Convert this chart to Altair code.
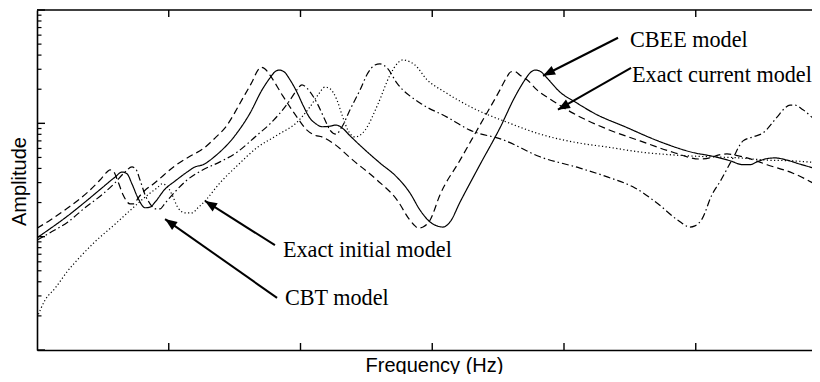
import math
import altair as alt
import pandas as pd

# Frequency in Hz (unlabelled ticks every 100 Hz); amplitude as level in dB
# (20 dB per decade, drawn as a logarithmic amplitude axis).
cbee_f = [0, 9.9, 23.5, 36.4, 49.3, 59.2, 64.5, 68.3, 72.1, 76.7, 82.0, 85.8, 89.6, 97.2,
          104.7, 113.9, 119.9, 126.0, 135.1, 151.8, 161.7, 170.8, 176.8, 180.6, 183.7, 187.5,
          192.0, 197.3, 201.9, 207.2, 211.8, 216.3, 222.4, 226.9, 231.5, 237.6, 249.0, 260.3,
          273.2, 283.1, 290.7, 298.3, 303.6, 308.2, 313.5, 321.1, 336.2, 351.4, 362.8, 370.4,
          374.2, 378.0, 381.8, 387.1, 397.0, 408.3, 423.5, 446.3, 471.3, 497.1, 514.6, 526.0,
          535.9, 541.2, 546.5, 552.6, 560.1, 569.3, 579.1, 594.3]
cbee_db = [19.8, 21.4, 23.7, 26.1, 28.6, 30.5, 31.4, 31.1, 29.3, 26.8, 25.1, 25.2, 26.1, 28.4,
           29.8, 31.4, 32.3, 32.7, 34.2, 38.3, 41.8, 45.9, 48.0, 49.1, 49.4, 49.1,
           47.7, 45.5, 43.2, 40.9, 39.9, 39.4, 39.5, 39.7, 39.2, 37.8, 35.3, 33.0,
           30.5, 27.7, 24.7, 22.6, 21.9, 21.7, 22.6, 26.1, 32.7, 39.2, 44.7, 47.7,
           48.9, 49.4, 49.2, 48.0, 45.5, 43.8, 41.7, 39.4, 36.9, 34.9, 34.1, 33.4,
           32.7, 32.7, 33.2, 33.7, 33.9, 33.5, 32.8, 31.8]

current_f = [0, 9.9, 23.5, 38.7, 47.8, 53.1, 55.4, 58.4, 61.5, 65.3, 70.6, 73.6, 76.7, 82.0,
             87.3, 104.7, 116.1, 126.0, 135.1, 142.7, 156.4, 163.2, 167.7, 170.0, 173.1, 176.8,
             186.7, 197.3, 204.9, 211.0, 216.3, 224.7, 239.8, 258.1, 273.2, 283.1, 286.9, 289.2,
             293.0, 298.3, 305.9, 321.1, 336.2, 351.4, 356.7, 359.8, 362.8, 366.6, 371.9, 379.5,
             389.4, 406.8, 432.6, 457.7, 482.7, 503.2, 510.8, 516.9, 523.7, 529.8, 538.9, 554.1,
             573.8, 594.3]
current_db = [21.5, 22.9, 25.1, 27.9, 30.0, 31.4, 31.8, 31.4, 29.7, 27.4, 25.8, 25.8, 26.8, 28.2,
              29.1, 32.5, 34.2, 35.5, 37.4, 39.2, 44.5, 47.3, 49.4, 49.9, 49.6, 48.5,
              44.8, 41.1, 38.8, 37.9, 37.6, 36.5, 33.5, 30.0, 26.5, 22.9, 21.9, 21.5,
              21.7, 22.9, 27.4, 33.5, 39.7, 45.9, 48.2, 49.1, 49.1, 48.5, 47.7, 45.9,
              44.3, 41.8, 39.0, 36.9, 34.9, 33.7, 33.9, 34.4, 34.6, 34.4, 33.9, 32.7,
              31.2, 28.8]

initial_f = [0, 6.1, 13.7, 22.8, 32.6, 44.0, 59.2, 72.9, 84.2, 91.1, 94.9, 97.9, 102.5, 107.0,
             112.3, 117.6, 122.2, 127.5, 138.9, 151.8, 167.0, 182.2, 197.3, 207.2, 213.3, 218.6,
             222.4, 227.7, 231.5, 236.0, 241.4, 245.2, 249.0, 258.8, 267.9, 274.0, 277.8, 281.6,
             286.9, 296.0, 309.7, 330.9, 356.7, 381.8, 412.1, 433.4, 459.2, 484.2, 509.3, 533.6,
             554.1, 571.5, 594.3]
initial_db = [5.7, 8.8, 10.9, 13.8, 16.4, 19.1, 22.2, 25.1, 27.4, 28.6, 29.3, 29.1, 27.4, 25.1,
              24.2, 24.2, 25.1, 26.3, 29.5, 32.5, 35.7, 37.9, 40.2, 42.9, 45.0, 46.4,
              46.1, 44.1, 41.5, 38.8, 37.6, 37.9, 38.8, 43.4, 48.5, 50.7, 51.2, 51.0,
              50.3, 47.7, 45.5, 42.7, 40.2, 38.1, 36.5, 35.8, 34.9, 34.4, 34.1, 33.9,
              33.5, 33.4, 33.0]

cbt_f = [0, 9.9, 23.5, 36.4, 49.3, 59.2, 66.8, 72.1, 75.1, 78.2, 82.0, 85.8, 90.3, 93.4,
         97.2, 104.7, 113.9, 126.0, 138.9, 151.8, 167.0, 176.8, 184.4, 192.0, 197.3, 201.1,
         204.9, 212.5, 218.6, 222.4, 226.9, 231.5, 237.6, 245.2, 251.2, 256.5, 260.3, 265.7,
         273.2, 290.7, 311.2, 328.6, 353.7, 381.8, 412.1, 433.4, 453.9, 471.3, 486.5, 495.6,
         499.4, 504.7, 512.3, 518.4, 528.3, 535.9, 543.4, 551.0, 561.7, 567.7, 571.5, 575.3,
         581.4, 592.0, 594.3]
cbt_db = [19.4, 20.7, 22.6, 25.1, 27.4, 29.5, 31.4, 32.3, 31.9, 30.0, 27.4, 25.8, 24.9, 24.9,
          25.9, 27.9, 30.0, 31.8, 33.2, 34.9, 37.9, 39.9, 41.8, 44.1, 45.9, 46.8,
          46.2, 43.6, 40.6, 38.8, 38.1, 39.4, 42.4, 45.9, 48.9, 50.3, 50.5, 49.8,
          47.1, 43.6, 41.1, 38.8, 37.1, 34.1, 32.1, 30.5, 28.6, 25.8, 22.9, 21.7,
          21.9, 23.1, 27.4, 29.7, 33.9, 36.9, 37.6, 38.3, 41.1, 42.7, 43.2, 43.2,
          42.4, 40.4, 40.1]

series_names = ["CBEE model", "Exact current model", "Exact initial model", "CBT model"]

# Annotations
ann_text = ["CBEE model", "Exact current model", "Exact initial model", "CBT model"]
ann_text_f = [450.1, 451.6, 186.7, 188.2]
ann_text_db = [54.7, 48.5, 17.6, 9.2]
arrow_start_f = [441.0, 450.9, 180.6, 182.2]
arrow_start_db = [55.1, 49.8, 18.5, 9.2]
arrow_tip_f = [384.1, 395.4, 127.5, 97.2]
arrow_tip_db = [48.4, 42.4, 26.3, 23.1]

# Tick positions
x_ticks = [100, 200, 300, 400, 500]
y_major = [0, 20, 40, 60]

# ---------------------------------------------------------------------------
PX_PER_HZ = 1.3175
W, H = 775, 340
F_MAX, DB_MAX = W / PX_PER_HZ, 60.0

rows = []
for name, fs, ds in zip(series_names, [cbee_f, current_f, initial_f, cbt_f],
                        [cbee_db, current_db, initial_db, cbt_db]):
    for f, d in zip(fs, ds):
        rows.append({"series": name, "f": f, "db": d})
lines_df = pd.DataFrame(rows)

y_minor = [20 * math.log10(k) + 20 * dec for dec in range(3) for k in range(2, 10)]

px_f = W / F_MAX
px_db = H / DB_MAX
angles = []
for sf, sd, tf, td in zip(arrow_start_f, arrow_start_db, arrow_tip_f, arrow_tip_db):
    dx = (tf - sf) * px_f
    dy = -(td - sd) * px_db
    angles.append(math.degrees(math.atan2(dx, -dy)) % 360)

arrows_df = pd.DataFrame({"f": arrow_start_f, "db": arrow_start_db,
                          "f2": arrow_tip_f, "db2": arrow_tip_db})
heads_df = pd.DataFrame({"f": arrow_tip_f, "db": arrow_tip_db, "angle": angles})
text_df = pd.DataFrame({"f": ann_text_f, "db": ann_text_db, "label": ann_text})

xscale = alt.Scale(domain=[0, F_MAX], nice=False, zero=False)
yscale = alt.Scale(domain=[0, DB_MAX], nice=False, zero=False)
xaxis = alt.Axis(title="Frequency (Hz)", titleX=397, titleY=15, titleBaseline="middle",
                 titleAlign="center")
yaxis = alt.Axis(title="Amplitude", titleX=-17.5, titleY=171, titleAngle=270,
                 titleBaseline="middle", titleAlign="center")

X = lambda: alt.X("f:Q", scale=xscale, axis=xaxis)
Y = lambda: alt.Y("db:Q", scale=yscale, axis=yaxis)

lines = alt.Chart(lines_df).mark_line(color="black", strokeWidth=1.2, interpolate="monotone",
                                      clip=True).encode(
    x=X(), y=Y(),
    strokeDash=alt.StrokeDash("series:N", scale=alt.Scale(
        domain=series_names,
        range=[[1, 0], [7, 4], [1.2, 2.4], [7, 3, 1.5, 3]]), legend=None),
)

top_border = alt.Chart(pd.DataFrame({"k": [0]})).mark_rule(color="black", strokeWidth=1.6).encode(
    x=alt.value(0), x2=alt.value(W), y=alt.value(0))

xt_df = pd.DataFrame({"f": x_ticks})
xticks_bottom = alt.Chart(xt_df).mark_rule(color="black", strokeWidth=1.4).encode(
    x=X(), y=alt.value(H), y2=alt.value(H - 7))
xticks_top = alt.Chart(xt_df).mark_rule(color="black", strokeWidth=1.4).encode(
    x=X(), y=alt.value(0), y2=alt.value(7))
ymaj = alt.Chart(pd.DataFrame({"db": y_major})).mark_rule(color="black", strokeWidth=1.4).encode(
    y=Y(), x=alt.value(0), x2=alt.value(8))
ymin = alt.Chart(pd.DataFrame({"db": y_minor})).mark_rule(color="black", strokeWidth=1.2).encode(
    y=Y(), x=alt.value(0), x2=alt.value(4.5))

arrows = alt.Chart(arrows_df).mark_rule(color="black", strokeWidth=2).encode(
    x=X(), y=Y(), x2="f2:Q", y2="db2:Q")
heads = alt.Chart(heads_df).mark_point(
    shape="M0,0L0.4,1L-0.4,1Z", filled=True, color="black", opacity=1, size=576, strokeWidth=0
).encode(x=X(), y=Y(), angle=alt.Angle("angle:Q", scale=None))
texts = alt.Chart(text_df).mark_text(
    align="left", baseline="middle", font="Liberation Serif", fontSize=22.2, color="black"
).encode(x=X(), y=Y(), text="label:N")

chart = alt.layer(lines, top_border, xticks_bottom, xticks_top, ymaj, ymin, arrows, heads, texts).properties(
    width=W, height=H,
    autosize=alt.AutoSizeParams(type="none"),
    padding={"left": 29, "top": 2, "right": 0, "bottom": 24},
).configure_view(stroke=None).configure_axis(
    labels=False, ticks=False, grid=False, domainColor="black", domainWidth=1.6,
    titleFont="Liberation Sans", titleFontSize=20, titleFontWeight="normal", titleColor="black",
)

chart.save("out.html", embed_options={"renderer": "svg", "actions": False})
